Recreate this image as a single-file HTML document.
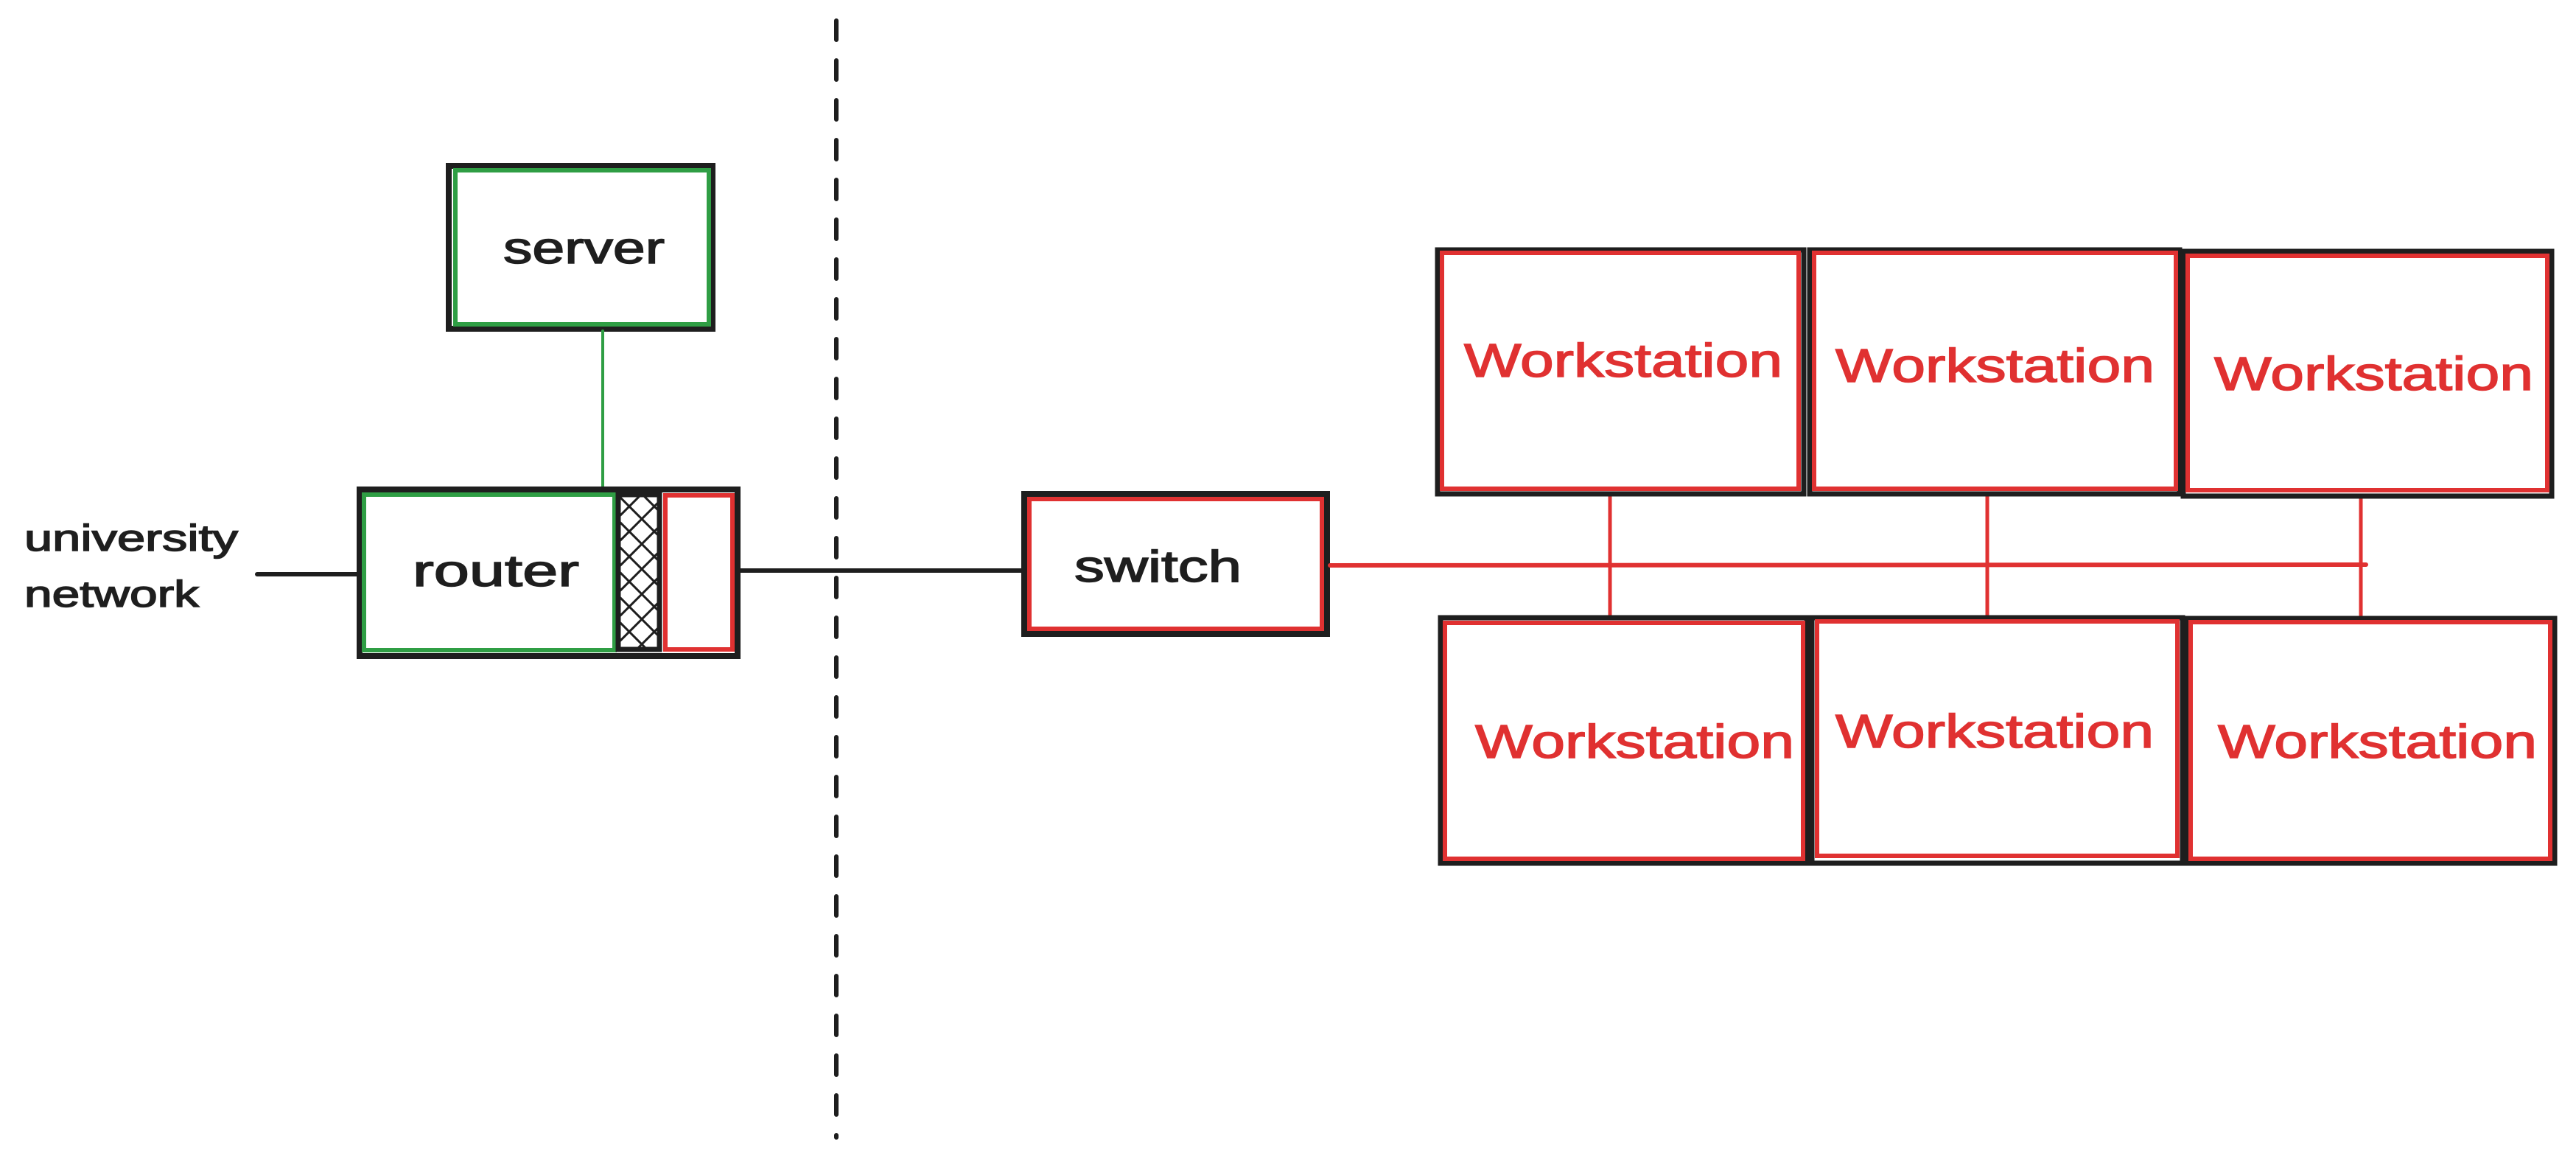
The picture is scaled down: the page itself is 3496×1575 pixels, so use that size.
<!DOCTYPE html>
<html><head><meta charset="utf-8"><style>html,body{margin:0;padding:0;background:#fff}svg{display:block}</style></head>
<body>
<svg width="3496" height="1575" viewBox="0 0 3496 1575" xmlns="http://www.w3.org/2000/svg">
<defs>
<pattern id="hx" width="34" height="34" patternUnits="userSpaceOnUse" patternTransform="translate(837 670)">
<path d="M0 0L34 34M34 0L0 34" stroke="#1e1e1e" stroke-width="3"/>
</pattern>
</defs>
<g fill="none" stroke-linecap="round">
<line x1="1135" y1="28" x2="1135" y2="1543" stroke="#1e1e1e" stroke-width="6" stroke-dasharray="26 28"/>
<rect x="609" y="225" width="358" height="221" stroke="#1e1e1e" stroke-width="8"/>
<rect x="618" y="231" width="344" height="209" stroke="#2f9e44" stroke-width="6"/>
<line x1="818" y1="449" x2="818" y2="662" stroke="#2f9e44" stroke-width="4"/>
<rect x="488" y="664" width="513" height="226" stroke="#1e1e1e" stroke-width="8"/>
<rect x="494" y="671" width="340" height="211" stroke="#2f9e44" stroke-width="6"/>
<rect x="839" y="671" width="56" height="210" fill="url(#hx)" stroke="#1e1e1e" stroke-width="7"/>
<rect x="903" y="672" width="91" height="209" stroke="#e03131" stroke-width="6"/>
<line x1="349" y1="779" x2="485" y2="779" stroke="#1e1e1e" stroke-width="6"/>
<line x1="1004" y1="774" x2="1386" y2="774" stroke="#1e1e1e" stroke-width="6"/>
<rect x="1390" y="670" width="411" height="190" stroke="#1e1e1e" stroke-width="8"/>
<rect x="1397" y="677" width="397" height="176" stroke="#e03131" stroke-width="6"/>
<line x1="1805" y1="767" x2="3211" y2="766" stroke="#e03131" stroke-width="6"/>
<line x1="2185" y1="672" x2="2185" y2="837" stroke="#e03131" stroke-width="5"/>
<line x1="2697" y1="672" x2="2697" y2="837" stroke="#e03131" stroke-width="5"/>
<line x1="3204" y1="673" x2="3204" y2="835" stroke="#e03131" stroke-width="5"/>
<rect x="1951" y="339" width="497" height="331" stroke="#1e1e1e" stroke-width="7"/>
<rect x="1957" y="343" width="484" height="320" stroke="#e03131" stroke-width="6"/>
<rect x="2456" y="339" width="502" height="331" stroke="#1e1e1e" stroke-width="7"/>
<rect x="2462" y="343" width="491" height="320" stroke="#e03131" stroke-width="6"/>
<rect x="2963" y="341" width="500" height="332" stroke="#1e1e1e" stroke-width="7"/>
<rect x="2969" y="347" width="488" height="318" stroke="#e03131" stroke-width="6"/>
<rect x="1955" y="838" width="497" height="333" stroke="#1e1e1e" stroke-width="7"/>
<rect x="1961" y="845" width="486" height="320" stroke="#e03131" stroke-width="6"/>
<rect x="2459" y="838" width="503" height="333" stroke="#1e1e1e" stroke-width="7"/>
<rect x="2466" y="843" width="489" height="318" stroke="#e03131" stroke-width="6"/>
<rect x="2968" y="839" width="499" height="332" stroke="#1e1e1e" stroke-width="7"/>
<rect x="2973" y="844" width="488" height="321" stroke="#e03131" stroke-width="6"/>
</g>
<g font-family="'Liberation Sans', sans-serif" fill="#1e1e1e" stroke="#1e1e1e" stroke-width="1.5" font-size="60">
<text x="683" y="357" textLength="219" lengthAdjust="spacingAndGlyphs">server</text>
<text x="560" y="795" textLength="226" lengthAdjust="spacingAndGlyphs">router</text>
<text x="1458" y="789" textLength="227" lengthAdjust="spacingAndGlyphs">switch</text>
<text x="33" y="747" font-size="50" textLength="290" lengthAdjust="spacingAndGlyphs">university</text>
<text x="33" y="823" font-size="50" textLength="237" lengthAdjust="spacingAndGlyphs">network</text>
</g>
<g font-family="'Liberation Sans', sans-serif" fill="#e03131" stroke="#e03131" stroke-width="1.5" font-size="64">
<text x="1987" y="511" textLength="432" lengthAdjust="spacingAndGlyphs">Workstation</text>
<text x="2491" y="518" textLength="433" lengthAdjust="spacingAndGlyphs">Workstation</text>
<text x="3005" y="529" textLength="433" lengthAdjust="spacingAndGlyphs">Workstation</text>
<text x="2002" y="1028" textLength="433" lengthAdjust="spacingAndGlyphs">Workstation</text>
<text x="2491" y="1014" textLength="432" lengthAdjust="spacingAndGlyphs">Workstation</text>
<text x="3010" y="1028" textLength="433" lengthAdjust="spacingAndGlyphs">Workstation</text>
</g>
</svg>
</body></html>
